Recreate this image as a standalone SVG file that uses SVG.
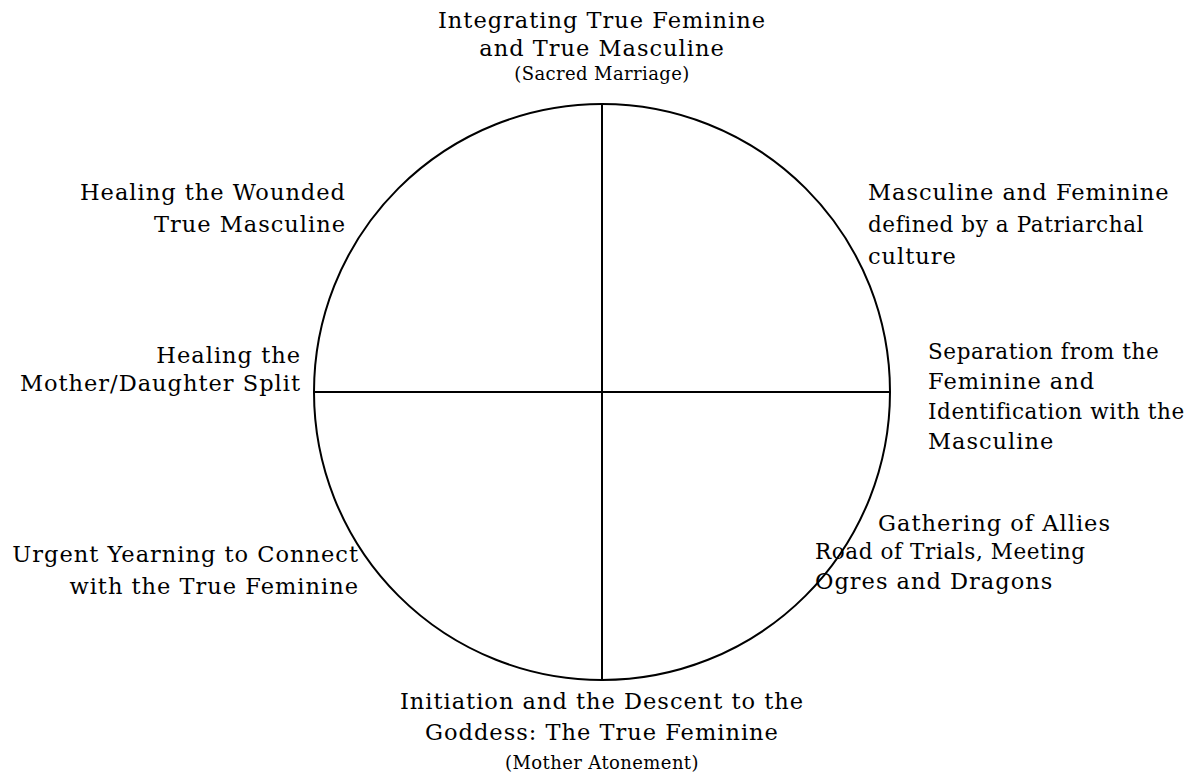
<svg xmlns="http://www.w3.org/2000/svg" width="1189" height="776" viewBox="0 0 1189 776">
<style>
.t{font-family:"DejaVu Serif","Liberation Serif",serif;font-size:22.5px;letter-spacing:1px;fill:#000}
.s{font-family:"DejaVu Serif","Liberation Serif",serif;font-size:18px;letter-spacing:0.4px;fill:#000}
.n{font-size:21.5px;letter-spacing:0.6px}
.m{text-anchor:middle}.e{text-anchor:end}
.ln{stroke:#000;stroke-width:2;fill:none}
</style>
<rect width="1189" height="776" fill="#fff"/>
<g id="wheel">
<circle class="ln" cx="602" cy="392" r="288"/>
</g>
<g id="connectors">
<line class="ln" x1="602" y1="104" x2="602" y2="680"/>
<line class="ln" x1="314" y1="392" x2="890" y2="392"/>
</g>
<g id="n-top"><text class="t m" x="602" y="28">Integrating True Feminine</text><text class="t m" x="602" y="56">and True Masculine</text><text class="s m" x="602" y="80">(Sacred Marriage)</text></g>
<g id="n-healing-masc"><text class="t e" x="346" y="200">Healing the Wounded</text><text class="t e" x="346" y="232">True Masculine</text></g>
<g id="n-patriarchal"><text class="t" x="868" y="200">Masculine and Feminine</text><text class="t n" x="868" y="232">defined by a Patriarchal</text><text class="t" x="868" y="264">culture</text></g>
<g id="n-mother-daughter"><text class="t e" x="301" y="363">Healing the</text><text class="t e" x="301" y="391">Mother/Daughter Split</text></g>
<g id="n-separation"><text class="t n" x="928" y="359">Separation from the</text><text class="t" x="928" y="389">Feminine and</text><text class="t n" x="928" y="419">Identification with the</text><text class="t" x="928" y="449">Masculine</text></g>
<g id="n-allies"><text class="t" x="878" y="531">Gathering of Allies</text></g>
<g id="n-yearning"><text class="t e" x="359" y="562">Urgent Yearning to Connect</text><text class="t e" x="359" y="594">with the True Feminine</text></g>
<g id="n-trials"><text class="t n" x="815" y="559">Road of Trials, Meeting</text><text class="t" x="815" y="589">Ogres and Dragons</text></g>
<g id="n-bottom"><text class="t m" x="602" y="709">Initiation and the Descent to the</text><text class="t m" x="602" y="740">Goddess: The True Feminine</text><text class="s m" x="602" y="769">(Mother Atonement)</text></g>
</svg>
